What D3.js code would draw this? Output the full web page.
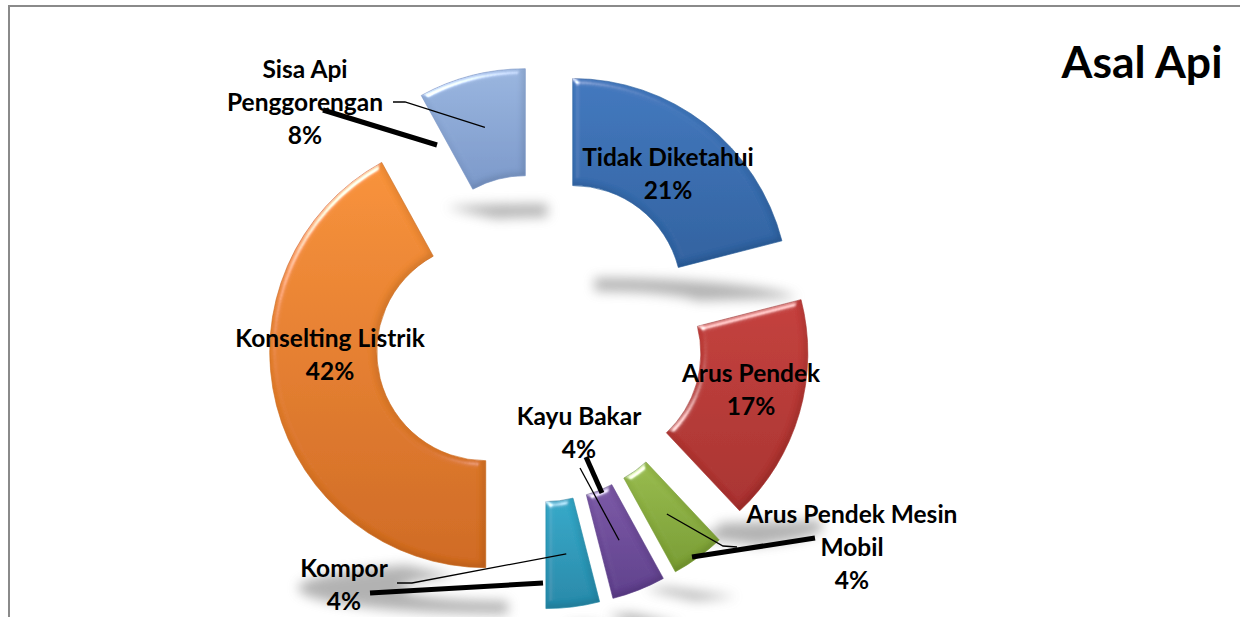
<!DOCTYPE html>
<html>
<head>
<meta charset="utf-8">
<script src="https://cdn.jsdelivr.net/npm/d3@7"></script>
<style>
  html, body { margin: 0; padding: 0; background: #fff; }
  svg { display: block; }
  text { font-family: Lato, "Open Sans", sans-serif; font-weight: 700; fill: #000; }
</style>
</head>
<body>
<svg id="chart" width="1240" height="617"></svg>
<script>
// ---- data ----
const categories = ["Tidak Diketahui", "Arus Pendek", "Arus Pendek Mesin Mobil", "Kayu Bakar", "Kompor", "Konselting Listrik", "Sisa Api Penggorengan"];
const values = [21, 17, 4, 4, 4, 42, 8];
const labelLines = [["Tidak Diketahui"], ["Arus Pendek"], ["Arus Pendek Mesin", "Mobil"], ["Kayu Bakar"], ["Kompor"], ["Konselting Listrik"], ["Sisa Api", "Penggorengan"]];
const title = "Asal Api";

// ---- styles / layout ----
const colorsTop = ["#4178be", "#c43f3c", "#98bb4c", "#7b58a6", "#35a9c9", "#f8923a", "#99b5df"];
const colorsBot = ["#2f619f", "#a8322f", "#789c33", "#5e3f8b", "#2688a8", "#cf6a22", "#7b98c9"];
const cx = 539, cy = 338, R = 216, r = 109, explode = 55;
const labelPos = [[668, 166], [751, 382], [852, 523], [579, 425], [344, 577], [330, 347], [305, 78]];
const lineStep = 33;
// thin leader line: label-side points (the slice end is computed from the arc centroid)
const leaderStart = { 2: [[737, 547], [723, 546]], 3: [[580, 468]], 4: [[397, 583], [412, 583]], 6: [[393, 102], [405, 102]] };
// thick leader strokes (as rendered in the original)
const thickLines = [[[323, 110], [437, 145]], [[586, 457], [602, 493]], [[692, 557], [815, 538]], [[370, 593], [543, 583]]];

const svg = d3.select("#chart");
const defs = svg.append("defs");

// frame
svg.append("rect").attr("x", 9).attr("y", 6).attr("width", 1300).attr("height", 700)
  .attr("fill", "none").attr("stroke", "#8a8a8a").attr("stroke-width", 2);

// gradients
values.forEach((v, i) => {
  const g = defs.append("linearGradient").attr("id", "grad" + i)
    .attr("x1", 0).attr("y1", 0).attr("x2", 0).attr("y2", 1);
  g.append("stop").attr("offset", "0%").attr("stop-color", colorsTop[i]);
  g.append("stop").attr("offset", "100%").attr("stop-color", colorsBot[i]);
});

// bevel filter: highlights on edges facing the light, darkening on the opposite edges
const bevel = defs.append("filter").attr("id", "bevel").attr("x", "-10%").attr("y", "-10%").attr("width", "120%").attr("height", "120%");
bevel.append("feGaussianBlur").attr("in", "SourceAlpha").attr("stdDeviation", 3).attr("result", "blur");
const spec = bevel.append("feSpecularLighting").attr("in", "blur").attr("surfaceScale", 4)
  .attr("specularConstant", 0.9).attr("specularExponent", 35).attr("lighting-color", "#ffffff").attr("result", "spec");
spec.append("feDistantLight").attr("azimuth", 235).attr("elevation", 30);
bevel.append("feComposite").attr("in", "spec").attr("in2", "SourceAlpha").attr("operator", "in").attr("result", "specIn");
// dark edge: offset of blurred alpha
bevel.append("feOffset").attr("in", "blur").attr("dx", -2).attr("dy", -2).attr("result", "offBlur");
bevel.append("feComposite").attr("in", "SourceAlpha").attr("in2", "offBlur").attr("operator", "out").attr("result", "edge");
bevel.append("feGaussianBlur").attr("in", "edge").attr("stdDeviation", 1.5).attr("result", "edgeBlur");
bevel.append("feComponentTransfer").attr("in", "edgeBlur").attr("result", "edgeDark")
  .append("feFuncA").attr("type", "linear").attr("slope", 0.35);
bevel.append("feComposite").attr("in", "edgeDark").attr("in2", "SourceAlpha").attr("operator", "in").attr("result", "edgeIn");
bevel.append("feComposite").attr("in", "SourceGraphic").attr("in2", "specIn").attr("operator", "arithmetic")
  .attr("k1", 0).attr("k2", 1).attr("k3", 1).attr("k4", 0).attr("result", "lit");
const merge = bevel.append("feMerge");
merge.append("feMergeNode").attr("in", "lit");
merge.append("feMergeNode").attr("in", "edgeIn");

// shadow blur filter
const sh = defs.append("filter").attr("id", "shadowBlur").attr("x", "-30%").attr("y", "-150%").attr("width", "160%").attr("height", "400%");
sh.append("feGaussianBlur").attr("stdDeviation", 6);

const pie = d3.pie().sort(null).value(d => d);
const arcs = pie(values);
const arc = d3.arc().innerRadius(r).outerRadius(R);

function offsetOf(a) {
  const mid = (a.startAngle + a.endAngle) / 2;
  return [cx + Math.sin(mid) * explode, cy - Math.cos(mid) * explode];
}

// shadows
const shadowLayer = svg.append("g");
arcs.forEach((a, i) => {
  const [ox, oy] = offsetOf(a);
  const tmp = svg.append("path").attr("d", arc(a)).attr("transform", `translate(${ox},${oy})`);
  const bb = tmp.node().getBBox();
  tmp.remove();
  const top = oy + bb.y, bottom = oy + bb.y + bb.height;
  const mid = (top + bottom) / 2;
  const g = shadowLayer.append("g").attr("filter", "url(#shadowBlur)").attr("opacity", 0.6);
  g.append("path").attr("d", arc(a))
    .attr("fill", "#808080")
    .attr("transform", `translate(${22},${bottom + 22}) translate(${ox},0) scale(0.97,0.12) translate(0,${oy - mid})`);
});

// slices
const sliceLayer = svg.append("g");
arcs.forEach((a, i) => {
  const [ox, oy] = offsetOf(a);
  sliceLayer.append("path")
    .attr("d", arc(a))
    .attr("transform", `translate(${ox},${oy})`)
    .attr("fill", `url(#grad${i})`)
    .attr("stroke", colorsBot[i]).attr("stroke-opacity", 0.6).attr("stroke-width", 1)
    .attr("filter", "url(#bevel)");
});

// thick leader strokes
const lineGen = d3.line();
thickLines.forEach(pts => {
  svg.append("path").attr("d", lineGen(pts)).attr("fill", "none")
    .attr("stroke", "#000").attr("stroke-width", 5);
});

// thin leader lines
Object.keys(leaderStart).forEach(k => {
  const a = arcs[k];
  const [ox, oy] = offsetOf(a);
  const c = arc.centroid(a);
  const pts = leaderStart[k].concat([[ox + c[0], oy + c[1]]]);
  svg.append("path").attr("d", lineGen(pts)).attr("fill", "none")
    .attr("stroke", "#000").attr("stroke-width", 1.3);
});

// labels
const total = d3.sum(values);
const fmt = d3.format(".0%");
arcs.forEach((a, i) => {
  const lines = labelLines[i].concat([fmt(values[i] / total)]);
  const t = svg.append("text").attr("text-anchor", "middle").attr("font-size", 24.5);
  lines.forEach((ln, j) => {
    t.append("tspan").attr("x", labelPos[i][0]).attr("y", labelPos[i][1] + j * lineStep).text(ln);
  });
});

// title
svg.append("text").attr("x", 1142).attr("y", 78).attr("text-anchor", "middle")
  .attr("font-size", 44.5).text(title);
</script>
</body>
</html>
